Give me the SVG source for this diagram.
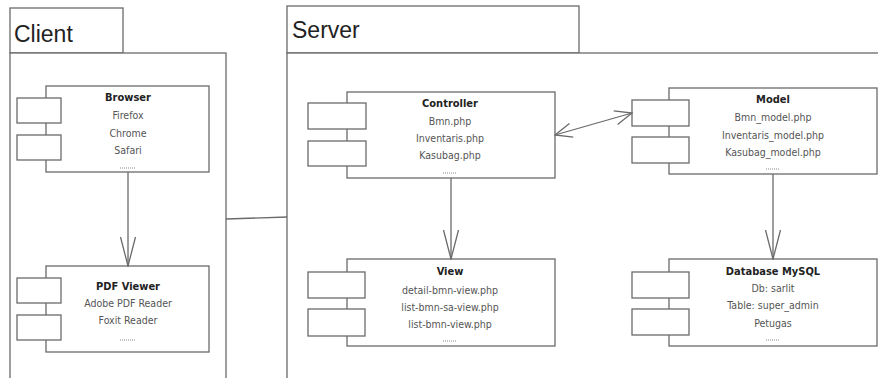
<svg xmlns="http://www.w3.org/2000/svg" width="878" height="378" viewBox="0 0 878 378">
<style>
.fr{fill:#fff;stroke:#6a6a6a;stroke-width:1.3}
.ln{fill:none;stroke:#6a6a6a;stroke-width:1.3}
.big{font-family:"Liberation Sans",Arial,sans-serif;font-size:23px;fill:#222}
.t{font-family:"DejaVu Sans Condensed","Liberation Sans",sans-serif;font-size:10.5px;fill:#555;text-anchor:middle}
.b{font-family:"DejaVu Sans Condensed","Liberation Sans",sans-serif;font-size:11px;font-weight:bold;fill:#222;text-anchor:middle}
.dots{stroke:#888;stroke-width:1;stroke-dasharray:1 1}
</style>
<defs>
<marker id="open" viewBox="0 0 30 20" refX="29" refY="10" markerWidth="30" markerHeight="20" markerUnits="userSpaceOnUse" orient="auto-start-reverse">
<path d="M0,2.5 L29,10 L0,17.5" fill="none" stroke="#6a6a6a" stroke-width="1.3"/>
</marker>
<marker id="openS" viewBox="0 0 20 20" refX="19" refY="10" markerWidth="20" markerHeight="20" markerUnits="userSpaceOnUse" orient="auto-start-reverse">
<path d="M2,3 L19,10 L2,17" fill="none" stroke="#6a6a6a" stroke-width="1.3"/>
</marker>
</defs>
<rect width="878" height="378" fill="#fff"/>

<g id="client">
<rect class="fr" x="10" y="8" width="113" height="45"/>
<rect class="fr" x="10" y="53" width="216" height="340"/>
<text class="big" x="14" y="42">Client</text>
</g>

<g id="server">
<rect class="fr" x="287" y="6" width="292" height="47"/>
<rect class="fr" x="287" y="53" width="600" height="340"/>
<text class="big" x="292" y="38">Server</text>
</g>

<g id="browser">
<rect class="fr" x="46" y="86" width="163" height="86"/>
<rect class="fr" x="17" y="98" width="44" height="25"/>
<rect class="fr" x="17" y="135" width="44" height="25"/>
<text class="b" x="128" y="101">Browser</text>
<text class="t" x="128" y="119">Firefox</text>
<text class="t" x="128" y="137">Chrome</text>
<text class="t" x="128" y="154">Safari</text>
<line class="dots" x1="120" y1="168" x2="136" y2="168"/>
</g>

<g id="pdfviewer">
<rect class="fr" x="46" y="266" width="163" height="86"/>
<rect class="fr" x="17" y="278" width="44" height="25"/>
<rect class="fr" x="17" y="315" width="44" height="25"/>
<text class="b" x="128" y="290">PDF Viewer</text>
<text class="t" x="128" y="307">Adobe PDF Reader</text>
<text class="t" x="128" y="324">Foxit Reader</text>
<line class="dots" x1="120" y1="340" x2="136" y2="340"/>
</g>

<g id="controller">
<rect class="fr" x="347" y="92" width="208" height="86"/>
<rect class="fr" x="308" y="103" width="58" height="26"/>
<rect class="fr" x="308" y="141" width="58" height="25"/>
<text class="b" x="450" y="107">Controller</text>
<text class="t" x="450" y="125">Bmn.php</text>
<text class="t" x="450" y="142">Inventaris.php</text>
<text class="t" x="450" y="159">Kasubag.php</text>
<line class="dots" x1="443" y1="173" x2="457" y2="173"/>
</g>

<g id="model">
<rect class="fr" x="669" y="88" width="208" height="86"/>
<rect class="fr" x="632" y="100" width="57" height="26"/>
<rect class="fr" x="632" y="137" width="57" height="26"/>
<text class="b" x="773" y="103">Model</text>
<text class="t" x="773" y="121">Bmn_model.php</text>
<text class="t" x="773" y="139">Inventaris_model.php</text>
<text class="t" x="773" y="156">Kasubag_model.php</text>
<line class="dots" x1="766" y1="169" x2="780" y2="169"/>
</g>

<g id="view">
<rect class="fr" x="347" y="259" width="208" height="87"/>
<rect class="fr" x="308" y="272" width="57" height="26"/>
<rect class="fr" x="308" y="309" width="57" height="27"/>
<text class="b" x="450" y="275">View</text>
<text class="t" x="450" y="294">detail-bmn-view.php</text>
<text class="t" x="450" y="311">list-bmn-sa-view.php</text>
<text class="t" x="450" y="328">list-bmn-view.php</text>
<line class="dots" x1="443" y1="341" x2="457" y2="341"/>
</g>

<g id="database">
<rect class="fr" x="669" y="259" width="208" height="87"/>
<rect class="fr" x="632" y="272" width="57" height="26"/>
<rect class="fr" x="632" y="309" width="57" height="26"/>
<text class="b" x="773" y="275">Database MySQL</text>
<text class="t" x="773" y="292">Db: sarlit</text>
<text class="t" x="773" y="309">Table: super_admin</text>
<text class="t" x="773" y="327">Petugas</text>
<line class="dots" x1="766" y1="340" x2="780" y2="340"/>
</g>

<g id="connectors">
<line class="ln" x1="128" y1="172" x2="128" y2="266" marker-end="url(#open)"/>
<line class="ln" x1="226" y1="219" x2="287" y2="217"/>
<line class="ln" x1="555" y1="135" x2="632" y2="113" marker-start="url(#openS)" marker-end="url(#openS)"/>
<line class="ln" x1="451" y1="178" x2="451" y2="259" marker-end="url(#open)"/>
<line class="ln" x1="773" y1="174" x2="773" y2="259" marker-end="url(#open)"/>
</g>
</svg>
